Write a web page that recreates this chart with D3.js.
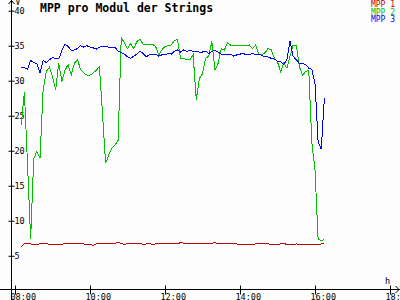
<!DOCTYPE html>
<html>
<head>
<meta charset="utf-8">
<script src="https://cdn.jsdelivr.net/npm/d3@7"></script>
<style>
  html, body { margin: 0; padding: 0; background: #fdfdfd; }
  svg { display: block; }
</style>
</head>
<body>
<div id="chart"></div>
<script>
// samples every 5 minutes, starting 08:10
const startMinute = 8 * 60 + 10;
const stepMinutes = 5;

const seriesNames = ["MPP 1", "MPP 2", "MPP 3"];
const seriesColors = ["#c00000", "#00c000", "#0000ff"];

const mpp1 = [
  6.3, 6.7, 6.7, 6.7, 6.6, 6.6, 6.7, 6.7, 6.8, 6.6,
  6.6, 6.6, 6.6, 6.6, 6.8, 6.7, 6.7, 6.7, 6.7, 6.7,
  6.7, 6.6, 6.6, 6.5, 6.7, 6.8, 6.7, 6.8, 6.8, 6.8,
  6.8, 6.9, 6.8, 6.6, 6.8, 6.8, 6.8, 6.8, 6.8, 6.6,
  6.7, 6.8, 6.6, 6.7, 6.7, 6.7, 6.7, 6.7, 6.7, 6.7,
  6.7, 6.9, 6.8, 6.8, 6.8, 6.8, 6.8, 6.8, 6.8, 6.8,
  6.7, 6.8, 6.9, 6.7, 6.8, 6.8, 6.8, 6.8, 6.8, 6.7,
  6.6, 6.6, 6.6, 6.6, 6.6, 6.7, 6.8, 6.8, 6.8, 6.7,
  6.6, 6.6, 6.6, 6.7, 6.8, 6.6, 6.6, 6.6, 6.7, 6.6,
  6.6, 6.6, 6.6, 6.6, 6.6, 6.6, 6.7, 6.7
];

const mpp2 = [
  23.7, 28.4, 18.2, 7.4, 18.9, 19.9, 19.0, 28.7, 31.3, 31.9,
  30.6, 28.7, 32.5, 29.9, 31.5, 32.3, 30.8, 32.5, 33.0, 31.6,
  31.1, 30.8, 30.8, 31.1, 31.5, 32.0, 25.3, 18.2, 19.4, 20.4,
  20.8, 21.5, 36.2, 35.4, 34.6, 35.3, 34.6, 35.6, 35.9, 35.2,
  35.1, 35.2, 35.2, 34.9, 33.7, 34.4, 34.9, 35.0, 35.1, 35.7,
  35.9, 33.2, 33.2, 33.0, 33.0, 33.7, 27.3, 30.3, 31.0, 33.2,
  33.5, 35.6, 31.5, 32.5, 34.6, 34.4, 35.4, 35.1, 35.1, 35.0,
  35.1, 35.0, 35.0, 35.1, 34.6, 35.1, 33.8, 33.7, 34.0, 34.6,
  34.4, 33.2, 32.7, 31.3, 32.5, 31.8, 33.5, 35.1, 35.1, 32.0,
  30.8, 31.3, 31.5, 21.1, 17.3, 7.3, 7.2, 7.3
];

const mpp3 = [
  31.9, 31.9, 31.6, 32.9, 32.6, 32.4, 31.1, 32.9, 32.6, 33.0,
  33.3, 33.2, 33.1, 34.3, 35.2, 34.9, 34.3, 34.4, 34.6, 35.0,
  34.8, 35.0, 34.8, 34.7, 34.5, 34.8, 34.9, 34.9, 34.8, 34.7,
  34.8, 34.2, 34.0, 33.8, 33.4, 33.2, 33.5, 33.8, 34.2, 33.9,
  33.4, 33.7, 33.8, 33.8, 33.5, 33.7, 33.7, 33.9, 33.8, 34.2,
  34.4, 34.1, 34.4, 34.2, 34.3, 34.2, 34.2, 34.1, 34.1, 34.2,
  33.9, 34.2, 34.3, 34.1, 33.8, 33.8, 33.7, 33.8, 33.5, 33.7,
  33.8, 33.9, 33.7, 33.7, 33.9, 33.7, 33.8, 33.6, 33.4, 33.4,
  33.2, 33.1, 32.8, 32.7, 32.3, 33.0, 35.6, 33.5, 33.0, 32.5,
  32.5, 32.3, 31.8, 31.6, 29.6, 21.3, 20.2, 27.5
];

const xTickLabels = ["08:00", "10:00", "12:00", "14:00", "16:00", "18:00"];
const yTicks = [5, 10, 15, 20, 25, 30, 35, 40];

const width = 400;
const height = 300;
const font = "'DejaVu Sans Mono', monospace";

const toMinutes = s => +s.slice(0, 2) * 60 + +s.slice(3, 5);

const x = d3.scaleLinear()
  .domain([toMinutes("08:00"), toMinutes("18:00")])
  .range([15, 390]);

const y = d3.scaleLinear()
  .domain([0, 40])
  .range([290.8, 10.7]);

const axisX = 11.5;   // position of the vertical axis line
const axisY = 289.5;  // position of the horizontal axis line

const svg = d3.select("#chart")
  .append("svg")
  .attr("width", width)
  .attr("height", height)
  .style("background", "#fdfdfd");

// Title
svg.append("text")
  .attr("x", 40)
  .attr("y", 12)
  .style("font-family", font)
  .style("font-weight", "bold")
  .style("font-size", "11.5px")
  .attr("fill", "#000")
  .text("MPP pro Modul der Strings");

// Legend, top right
seriesNames.forEach((name, i) => {
  svg.append("text")
    .attr("x", 395)
    .attr("y", 7 + i * 7.6)
    .attr("text-anchor", "end")
    .style("font-family", font)
    .style("font-size", "8px")
    .attr("fill", seriesColors[i])
    .text(name);
});

// Y axis (labels on the right side, ticks crossing the line)
const yAxis = svg.append("g")
  .attr("transform", `translate(${axisX},0)`)
  .call(d3.axisRight(y).tickValues(yTicks).tickSize(3).tickFormat(d3.format("d")));
yAxis.select(".domain").remove();
yAxis.selectAll(".tick line").attr("x1", -3).attr("x2", 3).attr("stroke", "#000");
yAxis.selectAll(".tick text")
  .attr("x", 3)
  .style("font-family", font)
  .style("font-size", "8.5px")
  .attr("fill", "#000");

// X axis
const xAxis = svg.append("g")
  .attr("transform", `translate(0,${axisY})`)
  .call(d3.axisBottom(x)
    .tickValues(xTickLabels.map(toMinutes))
    .tickSize(5)
    .tickFormat((d, i) => xTickLabels[i]));
xAxis.select(".domain").remove();
xAxis.selectAll(".tick line").attr("y1", -4).attr("y2", 5).attr("stroke", "#000");
xAxis.selectAll(".tick text")
  .attr("text-anchor", "start")
  .attr("x", -5)
  .attr("y", 10)
  .attr("dy", 0)
  .style("font-family", font)
  .style("font-size", "8.5px")
  .attr("fill", "#000");

// Axis lines with arrow heads
svg.append("line")
  .attr("x1", axisX).attr("x2", axisX)
  .attr("y1", 0).attr("y2", height)
  .attr("stroke", "#000");
svg.append("path")
  .attr("d", `M${axisX - 3},4 L${axisX},0.5 L${axisX + 3},4`)
  .attr("fill", "none")
  .attr("stroke", "#000");
svg.append("line")
  .attr("x1", 0).attr("x2", width)
  .attr("y1", axisY).attr("y2", axisY)
  .attr("stroke", "#000");
svg.append("path")
  .attr("d", `M395.5,${axisY - 3.5} L399,${axisY} L395.5,${axisY + 3.5}`)
  .attr("fill", "none")
  .attr("stroke", "#000");

// Axis unit labels
svg.append("text")
  .attr("x", 15.5).attr("y", 5)
  .style("font-family", font).style("font-size", "8px")
  .text("V");
svg.append("text")
  .attr("x", 385).attr("y", 284)
  .style("font-family", font).style("font-size", "8.5px")
  .text("h");

// Series lines
const line = d3.line()
  .x((d, i) => x(startMinute + i * stepMinutes))
  .y(d => y(d));

[mpp1, mpp2, mpp3].forEach((values, i) => {
  svg.append("path")
    .datum(values)
    .attr("d", line)
    .attr("fill", "none")
    .attr("stroke", seriesColors[i])
    .attr("stroke-width", 1)
    .style("shape-rendering", "crispEdges");
});
</script>
</body>
</html>
